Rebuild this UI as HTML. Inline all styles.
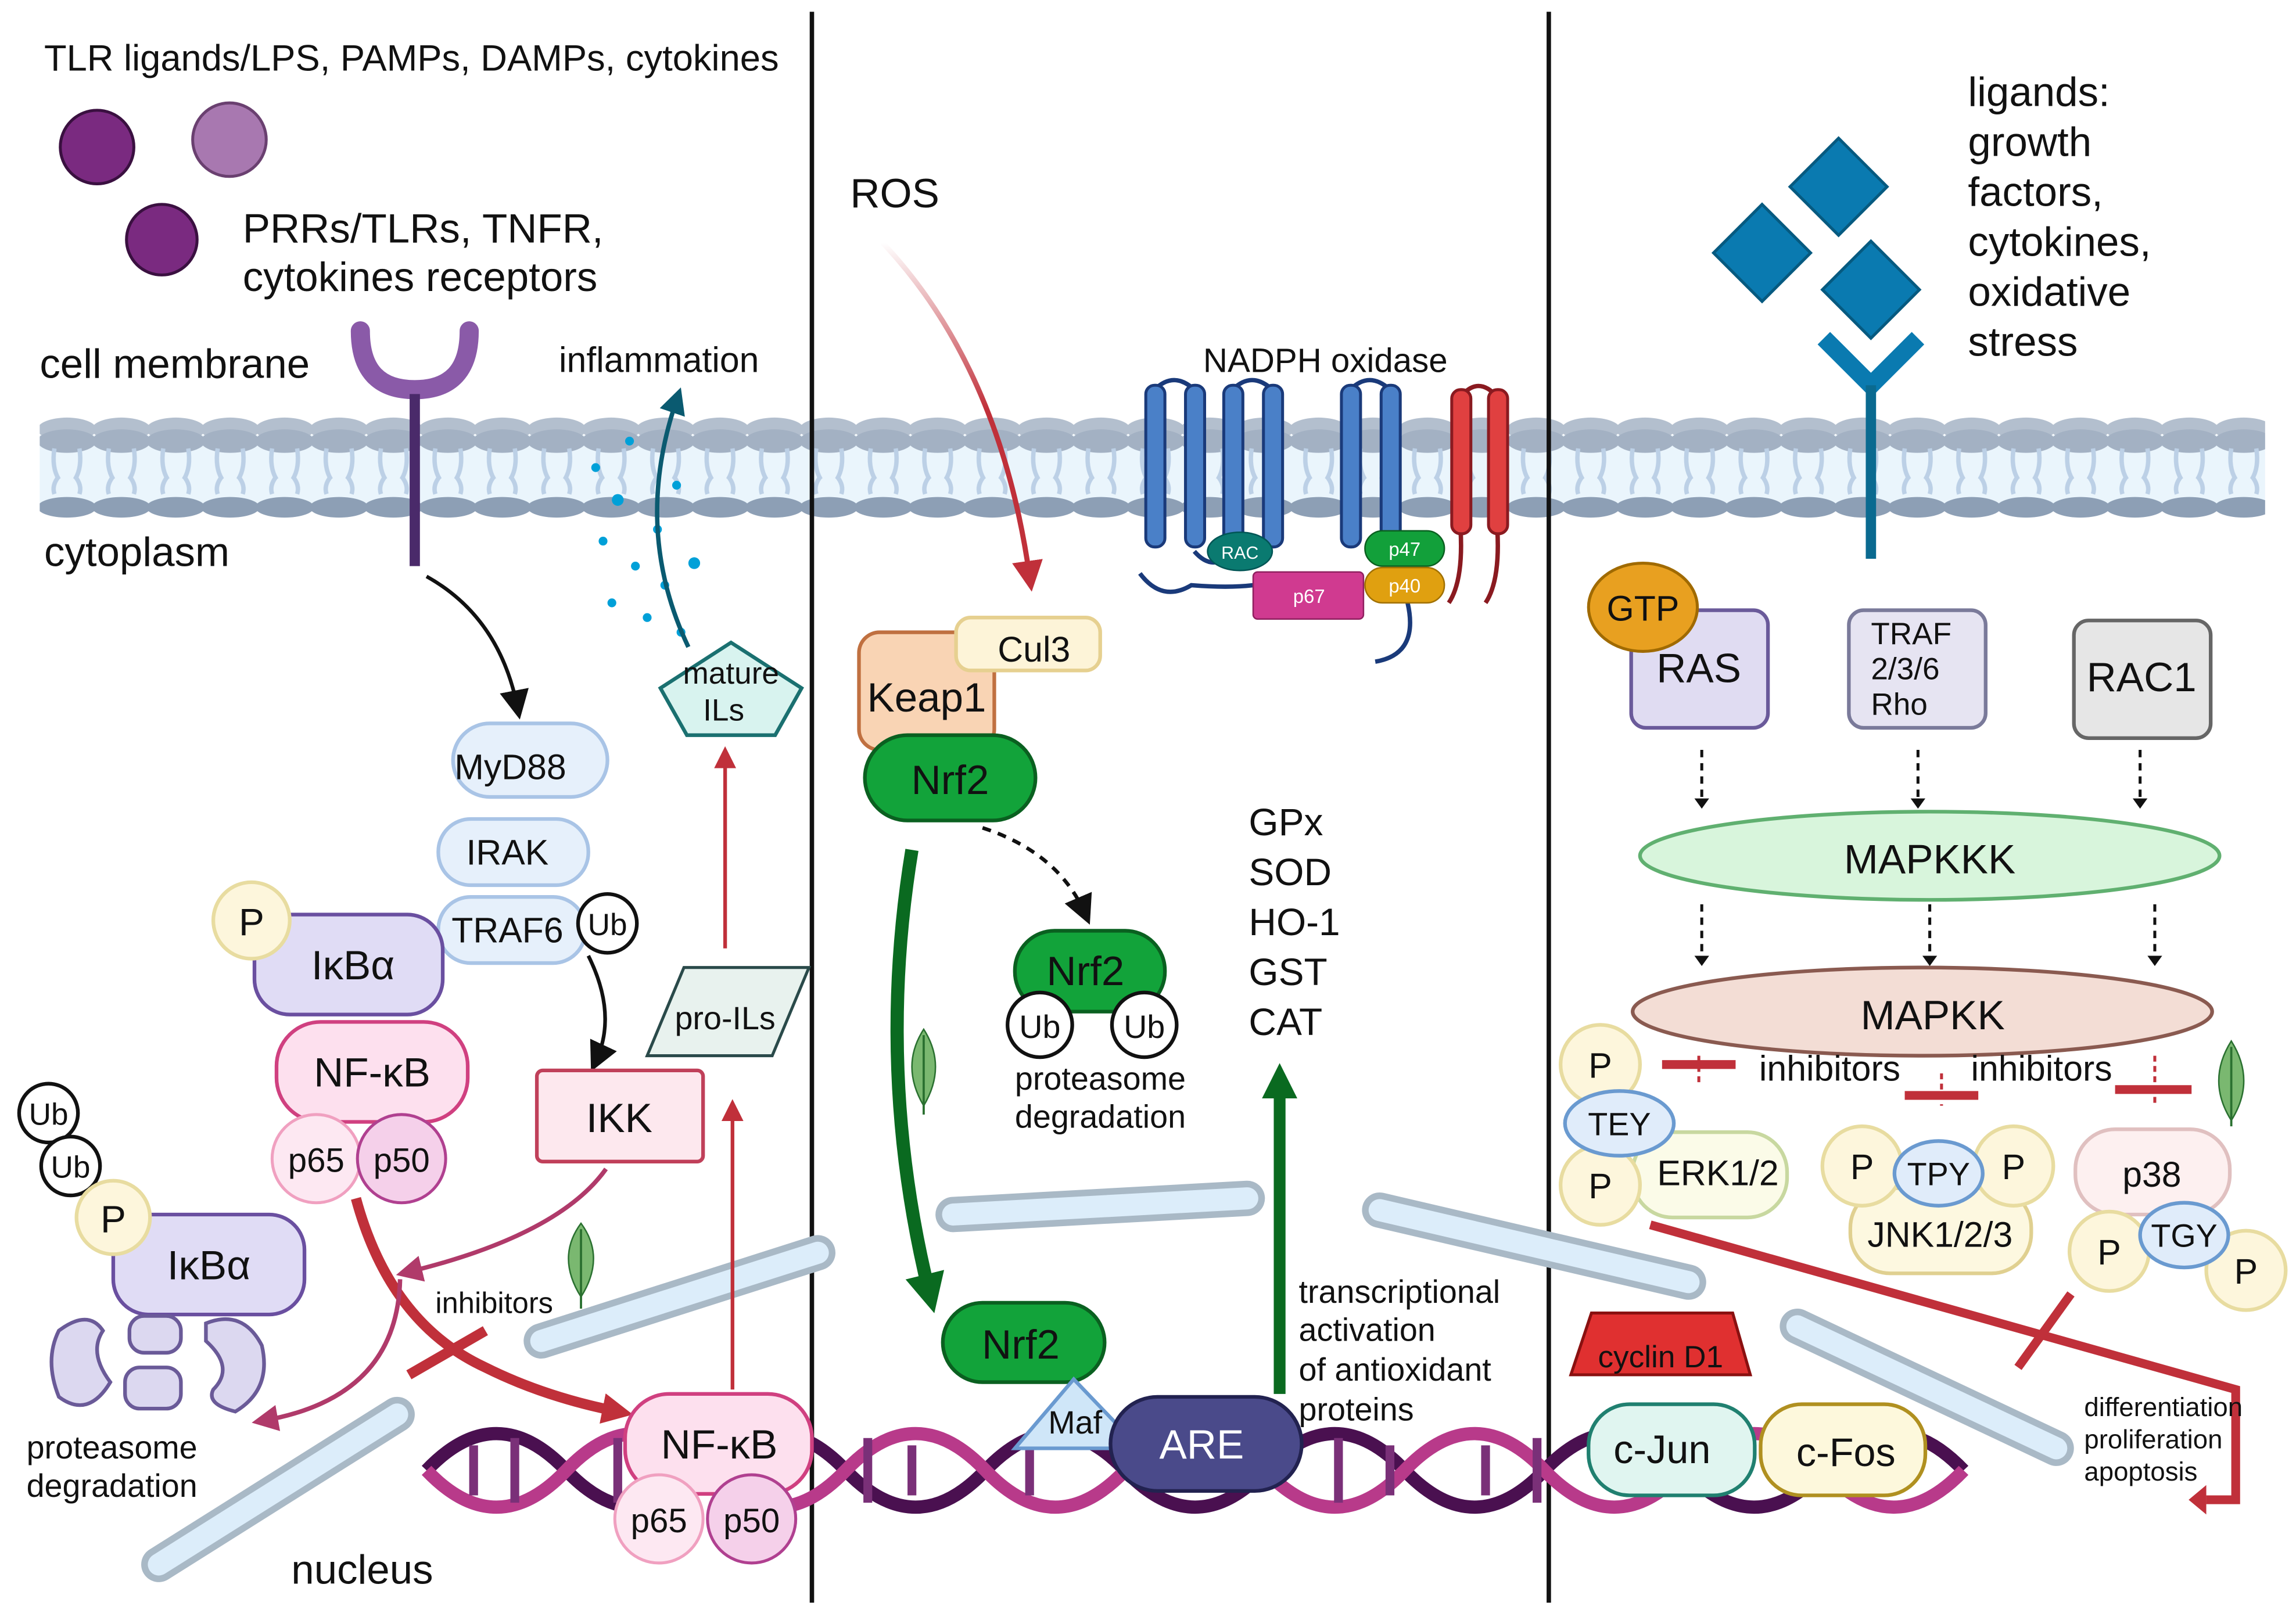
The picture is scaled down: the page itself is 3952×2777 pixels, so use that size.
<!DOCTYPE html>
<html><head><meta charset="utf-8"><style>html,body{margin:0;padding:0;background:#fff}svg{display:block}text{font-family:"Liberation Sans",sans-serif;fill:#111}</style></head>
<body>
<svg width="3952" height="2777" viewBox="0 0 1561 1097" preserveAspectRatio="none" xmlns="http://www.w3.org/2000/svg">
<defs>
<pattern id="heads" x="27" y="0" width="37" height="1097" patternUnits="userSpaceOnUse">
<ellipse cx="18.5" cy="292" rx="20" ry="8" fill="#b3bfce"/>
<ellipse cx="18.5" cy="300" rx="20" ry="8" fill="#a3b1c3"/>
<ellipse cx="18.5" cy="345" rx="20" ry="7" fill="#8d9fb5"/>
<path d="M10 305 Q8 318 13 326 M27 305 Q29 318 24 326 M10 336 Q8 330 13 324 M27 336 Q29 330 24 324" stroke="#bcd0e6" stroke-width="3" fill="none"/>
</pattern>
<marker id="ab" markerWidth="8" markerHeight="8" refX="5" refY="4" orient="auto" markerUnits="strokeWidth"><path d="M0 0L8 4L0 8z" fill="#111"/></marker>
<marker id="ar" markerWidth="6" markerHeight="6" refX="3" refY="3" orient="auto" markerUnits="strokeWidth"><path d="M0 0L6 3L0 6z" fill="#c0303a"/></marker>
<marker id="ap" markerWidth="6" markerHeight="6" refX="3" refY="3" orient="auto" markerUnits="strokeWidth"><path d="M0 0L6 3L0 6z" fill="#b03a6a"/></marker>
<marker id="at" markerWidth="6" markerHeight="6" refX="3" refY="3" orient="auto" markerUnits="strokeWidth"><path d="M0 0L6 3L0 6z" fill="#0a5a70"/></marker>
<marker id="ag" markerWidth="3" markerHeight="3" refX="1.5" refY="1.5" orient="auto" markerUnits="strokeWidth"><path d="M0 0L3 1.5L0 3z" fill="#0a6a20"/></marker>
<marker id="ard" markerWidth="3" markerHeight="3" refX="1.5" refY="1.5" orient="auto" markerUnits="strokeWidth"><path d="M0 0L3 1.5L0 3z" fill="#c0303a"/></marker>
<linearGradient id="ros" x1="0" y1="0" x2="0" y2="1"><stop offset="0" stop-color="#c0303a" stop-opacity="0"/><stop offset="0.5" stop-color="#c0303a"/></linearGradient>
</defs>
<rect x="27" y="296" width="1513" height="48" fill="#eaf5fc"/>
<rect x="27" y="280" width="1513" height="75" fill="url(#heads)"/>
<line x1="552" y1="8" x2="552" y2="1090" stroke="#111" stroke-width="3"/>
<line x1="1053" y1="8" x2="1053" y2="1090" stroke="#111" stroke-width="3"/>
<g stroke-linecap="round" fill="none">
<g stroke="#a9b9c6" stroke-width="24"><path d="M108 1064L270 962"/><path d="M368 912L556 852"/><path d="M648 826L848 815"/><path d="M938 823L1148 872"/><path d="M1222 902L1398 985"/></g>
<g stroke="#dcedfa" stroke-width="15"><path d="M108 1064L270 962"/><path d="M368 912L556 852"/><path d="M648 826L848 815"/><path d="M938 823L1148 872"/><path d="M1222 902L1398 985"/></g>
</g>
<g fill="none" stroke-width="9">
<path d="M290 1000 q47.5 -50 95 0 t95 0 t95 0 t95 0 t95 0 t95 0 t95 0 t95 0 t95 0 t95 0 t95 0" stroke="#4a1050"/>
<path d="M290 1000 q47.5 50 95 0 t95 0 t95 0 t95 0 t95 0 t95 0 t95 0 t95 0 t95 0 t95 0 t95 0" stroke="#b83a8a"/>
<g stroke-width="6" stroke="#7a3078"><path d="M322 983V1017M350 978V1022M420 978V1022M448 983V1017M590 978V1022M620 983V1017M700 983V1017M910 978V1022M945 983V1017M1010 983V1017M1045 978V1022"/></g>
</g>
<text x="30" y="48" font-size="25">TLR ligands/LPS, PAMPs, DAMPs, cytokines</text>
<circle cx="66" cy="100" r="25" fill="#7a2a80" stroke="#3a1040" stroke-width="2"/>
<circle cx="156" cy="95" r="25" fill="#a878b0" stroke="#6a4070" stroke-width="2"/>
<circle cx="110" cy="163" r="24" fill="#7a2a80" stroke="#3a1040" stroke-width="2"/>
<text x="165" y="165" font-size="28">PRRs/TLRs, TNFR,</text>
<text x="165" y="198" font-size="28">cytokines receptors</text>
<text x="27" y="257" font-size="28">cell membrane</text>
<path d="M245 225 Q245 265 282 265 Q319 265 319 225" fill="none" stroke="#8a5aa8" stroke-width="13" stroke-linecap="round"/>
<line x1="282" y1="268" x2="282" y2="385" stroke="#4a2a6a" stroke-width="7"/>
<text x="380" y="253" font-size="24">inflammation</text>
<text x="30" y="385" font-size="28">cytoplasm</text>
<path d="M290 392 Q340 420 352 482" fill="none" stroke="#111" stroke-width="2.5" marker-end="url(#ab)"/>
<g fill="#00a0d8"><circle cx="405" cy="318" r="3"/><circle cx="420" cy="340" r="4"/><circle cx="432" cy="385" r="3"/><circle cx="447" cy="360" r="3"/><circle cx="472" cy="383" r="4"/><circle cx="416" cy="410" r="3"/><circle cx="440" cy="420" r="3"/><circle cx="460" cy="330" r="3"/><circle cx="410" cy="368" r="3"/><circle cx="428" cy="300" r="3"/><circle cx="452" cy="398" r="3"/><circle cx="463" cy="430" r="3"/></g>
<path d="M468 440 Q430 360 460 272" fill="none" stroke="#0a5a70" stroke-width="3" marker-end="url(#at)"/>
<polygon points="497,437 545,468 527,500 467,500 449,468" fill="#d8f3ef" stroke="#1a7070" stroke-width="2.5"/>
<text x="497" y="465" font-size="21" text-anchor="middle">mature</text><text x="492" y="490" font-size="21" text-anchor="middle">ILs</text>
<path d="M493 645V515" stroke="#c0303a" stroke-width="2.5" marker-end="url(#ar)"/>
<polygon points="465,658 550,658 525,718 440,718" fill="#e8f2ee" stroke="#2a4a4a" stroke-width="2"/>
<text x="493" y="700" font-size="22" text-anchor="middle">pro-ILs</text>
<path d="M498 945V755" stroke="#c0303a" stroke-width="2.5" marker-end="url(#ar)"/>
<rect x="308" y="492" width="105" height="50" rx="25" fill="#e6f0fb" stroke="#a9c4e6" stroke-width="2.5"/><text x="347" y="530" font-size="24" text-anchor="middle">MyD88</text>
<rect x="298" y="557" width="102" height="45" rx="22" fill="#e6f0fb" stroke="#a9c4e6" stroke-width="2.5"/><text x="345" y="588" font-size="24" text-anchor="middle">IRAK</text>
<rect x="298" y="610" width="100" height="45" rx="22" fill="#e6f0fb" stroke="#a9c4e6" stroke-width="2.5"/><text x="345" y="641" font-size="24" text-anchor="middle">TRAF6</text>
<circle cx="413" cy="628" r="20" fill="#fff" stroke="#111" stroke-width="2.5"/><text x="413" y="636" font-size="21" text-anchor="middle">Ub</text>
<path d="M400 650 Q420 690 405 722" fill="none" stroke="#111" stroke-width="2.5" marker-end="url(#ab)"/>
<rect x="173" y="622" width="128" height="68" rx="24" fill="#e0dcf5" stroke="#6a4fa0" stroke-width="2.5"/><text x="240" y="666" font-size="28" text-anchor="middle">IκBα</text>
<circle cx="171" cy="626" r="26" fill="#fdf6dc" stroke="#e8dca0" stroke-width="2.5"/><text x="171" y="636" font-size="26" text-anchor="middle">P</text>
<rect x="188" y="695" width="130" height="68" rx="30" fill="#fde0ee" stroke="#d04080" stroke-width="2.5"/><text x="253" y="739" font-size="28" text-anchor="middle">NF-κB</text>
<circle cx="215" cy="788" r="30" fill="#fde8f2" stroke="#f0a0c0" stroke-width="2"/><text x="215" y="797" font-size="23" text-anchor="middle">p65</text>
<circle cx="273" cy="788" r="30" fill="#f5d0ea" stroke="#b04090" stroke-width="2"/><text x="273" y="797" font-size="23" text-anchor="middle">p50</text>
<rect x="365" y="728" width="113" height="62" rx="4" fill="#fde8ee" stroke="#c0405a" stroke-width="2.5"/><text x="421" y="770" font-size="28" text-anchor="middle">IKK</text>
<circle cx="33" cy="757" r="20" fill="#fff" stroke="#111" stroke-width="2.5"/><text x="33" y="765" font-size="21" text-anchor="middle">Ub</text>
<circle cx="48" cy="793" r="20" fill="#fff" stroke="#111" stroke-width="2.5"/><text x="48" y="801" font-size="21" text-anchor="middle">Ub</text>
<rect x="77" y="826" width="130" height="68" rx="24" fill="#e0dcf5" stroke="#6a4fa0" stroke-width="2.5"/><text x="142" y="870" font-size="28" text-anchor="middle">IκBα</text>
<circle cx="77" cy="828" r="25" fill="#fdf6dc" stroke="#e8dca0" stroke-width="2.5"/><text x="77" y="838" font-size="26" text-anchor="middle">P</text>
<g fill="#dcd8f0" stroke="#6a5a98" stroke-width="2.5">
<path d="M40 905 Q60 890 70 905 Q60 920 75 940 Q60 965 40 950 Q30 925 40 905z"/>
<rect x="88" y="895" width="35" height="25" rx="10"/><rect x="85" y="930" width="38" height="28" rx="10"/>
<path d="M140 900 Q165 890 178 915 Q185 945 160 960 Q140 955 145 945 Q160 930 140 912z"/>
</g>
<text x="18" y="992" font-size="22">proteasome</text><text x="18" y="1018" font-size="22">degradation</text>
<path d="M242 815 Q265 900 330 930 Q370 950 420 960" fill="none" stroke="#c0303a" stroke-width="7" marker-end="url(#ard)"/>
<path d="M412 795 Q380 840 278 865" fill="none" stroke="#b03a6a" stroke-width="3" marker-end="url(#ap)"/>
<path d="M272 870 Q270 950 180 966" fill="none" stroke="#b03a6a" stroke-width="3" marker-end="url(#ap)"/>
<text x="296" y="893" font-size="20">inhibitors</text>
<line x1="278" y1="935" x2="330" y2="905" stroke="#c0303a" stroke-width="7"/>
<path d="M395 832 Q378 855 395 882 Q412 855 395 832z" fill="#7ab870" stroke="#2a7030"/><path d="M395 836V890" stroke="#2a7030" stroke-width="1.5"/>
<rect x="425" y="948" width="127" height="68" rx="30" fill="#fde0ee" stroke="#d04080" stroke-width="2.5"/><text x="489" y="992" font-size="28" text-anchor="middle">NF-κB</text>
<circle cx="448" cy="1033" r="30" fill="#fde8f2" stroke="#f0a0c0" stroke-width="2"/><text x="448" y="1042" font-size="23" text-anchor="middle">p65</text>
<circle cx="511" cy="1033" r="30" fill="#f5d0ea" stroke="#b04090" stroke-width="2"/><text x="511" y="1042" font-size="23" text-anchor="middle">p50</text>
<text x="198" y="1077" font-size="28">nucleus</text>
<text x="578" y="141" font-size="28">ROS</text>
<path d="M600 165 Q680 250 700 392" fill="none" stroke="url(#ros)" stroke-width="3.5" marker-end="url(#ar)"/>
<text x="818" y="253" font-size="23">NADPH oxidase</text>
<g fill="none" stroke="#1a3a7a" stroke-width="3">
<path d="M775 390 Q790 410 810 398 Q835 400 852 398"/><path d="M957 410 Q965 445 935 450"/>
<path d="M785 265 Q798 252 812 265 M838 265 Q851 252 865 265 M918 265 Q931 252 945 265"/>
<path d="M812 375 Q825 390 838 375"/>
</g>
<g fill="#4a80c8" stroke="#1a3a7a" stroke-width="2">
<rect x="779" y="262" width="13" height="110" rx="6"/><rect x="806" y="262" width="13" height="110" rx="6"/><rect x="832" y="262" width="13" height="110" rx="6"/><rect x="859" y="262" width="13" height="110" rx="6"/><rect x="912" y="262" width="13" height="110" rx="6"/><rect x="939" y="262" width="13" height="110" rx="6"/>
</g>
<path d="M993 270 Q1005 255 1018 270 M993 360 Q995 395 985 410 M1018 360 Q1020 395 1010 410" stroke="#8a1a20" stroke-width="3" fill="none"/>
<g fill="#e04040" stroke="#8a1a20" stroke-width="2"><rect x="987" y="265" width="13" height="98" rx="6"/><rect x="1012" y="265" width="13" height="98" rx="6"/></g>
<ellipse cx="843" cy="375" rx="22" ry="13" fill="#0a7a70" stroke="#055"/><text x="843" y="380" font-size="12" text-anchor="middle" style="fill:#fff">RAC</text>
<rect x="852" y="389" width="75" height="32" rx="3" fill="#d03a90" stroke="#902060"/><text x="890" y="410" font-size="13" text-anchor="middle" style="fill:#fff">p67</text>
<rect x="928" y="361" width="54" height="24" rx="12" fill="#12a03a" stroke="#0a6020"/><text x="955" y="378" font-size="13" text-anchor="middle" style="fill:#fff">p47</text>
<rect x="928" y="386" width="54" height="24" rx="12" fill="#e0a010" stroke="#a07000"/><text x="955" y="403" font-size="13" text-anchor="middle" style="fill:#fff">p40</text>
<rect x="584" y="430" width="92" height="80" rx="14" fill="#f9d4b4" stroke="#c07040" stroke-width="2.5"/><text x="630" y="484" font-size="28" text-anchor="middle">Keap1</text>
<rect x="650" y="420" width="98" height="36" rx="10" fill="#fdf4d8" stroke="#e6d090" stroke-width="2.5"/><text x="703" y="450" font-size="24" text-anchor="middle">Cul3</text>
<rect x="588" y="500" width="116" height="58" rx="29" fill="#12a33a" stroke="#0a6020" stroke-width="2.5"/><text x="646" y="540" font-size="28" text-anchor="middle">Nrf2</text>
<path d="M668 563 Q720 580 738 622" fill="none" stroke="#111" stroke-width="2.5" stroke-dasharray="6,5" marker-end="url(#ab)"/>
<rect x="690" y="633" width="102" height="55" rx="27" fill="#12a33a" stroke="#0a6020" stroke-width="2.5"/><text x="738" y="670" font-size="28" text-anchor="middle">Nrf2</text>
<circle cx="707" cy="697" r="22" fill="#fff" stroke="#111" stroke-width="2.5"/><text x="707" y="706" font-size="22" text-anchor="middle">Ub</text>
<circle cx="778" cy="697" r="22" fill="#fff" stroke="#111" stroke-width="2.5"/><text x="778" y="706" font-size="22" text-anchor="middle">Ub</text>
<text x="690" y="741" font-size="22">proteasome</text><text x="690" y="767" font-size="22">degradation</text>
<path d="M620 578 Q595 730 632 880" fill="none" stroke="#0a6a20" stroke-width="9" marker-end="url(#ag)"/>
<path d="M628 700 Q612 725 628 752 Q644 725 628 700z" fill="#7ab870" stroke="#2a7030"/><path d="M628 704V758" stroke="#2a7030" stroke-width="1.5"/>
<rect x="641" y="886" width="110" height="54" rx="27" fill="#12a33a" stroke="#0a6020" stroke-width="2.5"/><text x="694" y="924" font-size="28" text-anchor="middle">Nrf2</text>
<polygon points="730,938 690,985 775,985" fill="#cfe6f8" stroke="#6a9ad0" stroke-width="2.5"/><text x="731" y="975" font-size="22" text-anchor="middle">Maf</text>
<rect x="755" y="950" width="130" height="64" rx="32" fill="#4a4a8a" stroke="#222250" stroke-width="2.5"/><text x="817" y="992" font-size="28" text-anchor="middle" style="fill:#fff">ARE</text>
<g font-size="26"><text x="849" y="568">GPx</text><text x="849" y="602">SOD</text><text x="849" y="636">HO-1</text><text x="849" y="670">GST</text><text x="849" y="704">CAT</text></g>
<path d="M870 948V735" stroke="#0a6a20" stroke-width="8" marker-end="url(#ag)"/>
<g font-size="22"><text x="883" y="886">transcriptional</text><text x="883" y="912">activation</text><text x="883" y="939">of antioxidant</text><text x="883" y="966">proteins</text></g>
<g font-size="28"><text x="1338" y="72">ligands:</text><text x="1338" y="106">growth</text><text x="1338" y="140">factors,</text><text x="1338" y="174">cytokines,</text><text x="1338" y="208">oxidative</text><text x="1338" y="242">stress</text></g>
<g fill="#0a7ab0" stroke="#065a80" stroke-width="2"><polygon points="1250,94 1283,127 1250,160 1217,127"/><polygon points="1198,139 1231,172 1198,205 1165,172"/><polygon points="1272,164 1305,197 1272,230 1239,197"/></g>
<path d="M1240 230 L1272 262 L1304 230" fill="none" stroke="#0a7ab0" stroke-width="12"/>
<line x1="1272" y1="262" x2="1272" y2="380" stroke="#0a6a90" stroke-width="7"/>
<rect x="1109" y="415" width="93" height="80" rx="10" fill="#e0dcf2" stroke="#6a5a9a" stroke-width="2.5"/><text x="1155" y="464" font-size="28" text-anchor="middle">RAS</text>
<ellipse cx="1117" cy="413" rx="37" ry="30" fill="#e8a020" stroke="#a06a00" stroke-width="2"/><text x="1117" y="422" font-size="24" text-anchor="middle">GTP</text>
<rect x="1257" y="415" width="93" height="80" rx="10" fill="#e6e4f2" stroke="#7a7a9a" stroke-width="2.5"/><g font-size="21"><text x="1272" y="438">TRAF</text><text x="1272" y="462">2/3/6</text><text x="1272" y="486">Rho</text></g>
<rect x="1410" y="422" width="93" height="80" rx="10" fill="#e6e6e6" stroke="#666" stroke-width="2.5"/><text x="1456" y="470" font-size="28" text-anchor="middle">RAC1</text>
<g stroke="#111" stroke-width="2" stroke-dasharray="5,4"><path d="M1157 510V543M1304 510V543M1455 510V543M1157 615V650M1312 615V650M1465 615V650"/></g>
<g fill="#111"><path d="M1152 543h10l-5 7zM1299 543h10l-5 7zM1450 543h10l-5 7zM1152 650h10l-5 7zM1307 650h10l-5 7zM1460 650h10l-5 7z"/></g>
<ellipse cx="1312" cy="582" rx="197" ry="30" fill="#d8f5dc" stroke="#60b070" stroke-width="2.5"/><text x="1312" y="594" font-size="28" text-anchor="middle">MAPKKK</text>
<ellipse cx="1307" cy="688" rx="197" ry="30" fill="#f3ddd5" stroke="#8a5a50" stroke-width="2.5"/><text x="1314" y="700" font-size="28" text-anchor="middle">MAPKK</text>
<g stroke="#c0303a" stroke-width="2" stroke-dasharray="4,3"><path d="M1155 718V738M1320 730V752M1465 718V752"/></g>
<g stroke="#c0303a" stroke-width="6"><path d="M1130 724H1180M1295 745H1345M1438 741H1490"/></g>
<text x="1196" y="735" font-size="24">inhibitors</text><text x="1340" y="735" font-size="24">inhibitors</text>
<path d="M1517 708 Q1500 735 1517 762 Q1534 735 1517 708z" fill="#7ab870" stroke="#2a7030"/><path d="M1517 712V766" stroke="#2a7030" stroke-width="1.5"/>
<g stroke-width="2.5">
<rect x="1110" y="770" width="105" height="58" rx="27" fill="#fbfbe8" stroke="#c8d8a0"/>
<circle cx="1088" cy="724" r="27" fill="#fdf6dc" stroke="#e8dca0"/><circle cx="1088" cy="806" r="27" fill="#fdf6dc" stroke="#e8dca0"/>
<ellipse cx="1101" cy="764" rx="37" ry="22" fill="#e0ecfa" stroke="#6a9ad0"/>
<rect x="1258" y="808" width="123" height="58" rx="27" fill="#fdf8e0" stroke="#e0d090"/>
<circle cx="1266" cy="793" r="27" fill="#fdf6dc" stroke="#e8dca0"/><circle cx="1369" cy="793" r="27" fill="#fdf6dc" stroke="#e8dca0"/>
<ellipse cx="1318" cy="798" rx="30" ry="22" fill="#e0ecfa" stroke="#6a9ad0"/>
<rect x="1411" y="768" width="105" height="58" rx="27" fill="#fdf0f0" stroke="#e0c0c0"/>
<circle cx="1434" cy="851" r="27" fill="#fdf6dc" stroke="#e8dca0"/><circle cx="1527" cy="864" r="27" fill="#fdf6dc" stroke="#e8dca0"/>
<ellipse cx="1485" cy="840" rx="30" ry="22" fill="#e0ecfa" stroke="#6a9ad0"/>
</g>
<g font-size="24"><text x="1088" y="733" text-anchor="middle">P</text><text x="1088" y="815" text-anchor="middle">P</text><text x="1101" y="772" text-anchor="middle" font-size="22">TEY</text><text x="1168" y="806" text-anchor="middle">ERK1/2</text>
<text x="1266" y="802" text-anchor="middle">P</text><text x="1369" y="802" text-anchor="middle">P</text><text x="1318" y="806" text-anchor="middle" font-size="22">TPY</text><text x="1319" y="848" text-anchor="middle">JNK1/2/3</text>
<text x="1463" y="807" text-anchor="middle">p38</text><text x="1434" y="860" text-anchor="middle">P</text><text x="1527" y="873" text-anchor="middle">P</text><text x="1485" y="848" text-anchor="middle" font-size="22">TGY</text></g>
<path d="M1122 833 L1520 945 V1020 H1500" fill="none" stroke="#c0303a" stroke-width="6"/>
<path d="M1500 1010 L1488 1020 L1500 1030z" fill="#c0303a"/>
<line x1="1372" y1="930" x2="1408" y2="880" stroke="#c0303a" stroke-width="6"/>
<g font-size="18"><text x="1417" y="963">differentiation</text><text x="1417" y="985">proliferation</text><text x="1417" y="1007">apoptosis</text></g>
<polygon points="1082,893 1178,893 1190,935 1068,935" fill="#e03030" stroke="#8a1010" stroke-width="2"/><text x="1129" y="930" font-size="21" text-anchor="middle">cyclin D1</text>
<rect x="1080" y="955" width="113" height="62" rx="28" fill="#e0f5f0" stroke="#208070" stroke-width="2.5"/><text x="1130" y="995" font-size="27" text-anchor="middle">c-Jun</text>
<rect x="1197" y="955" width="112" height="62" rx="28" fill="#fdf8dc" stroke="#b09020" stroke-width="2.5"/><text x="1255" y="997" font-size="27" text-anchor="middle">c-Fos</text>
</svg>
</body></html>
